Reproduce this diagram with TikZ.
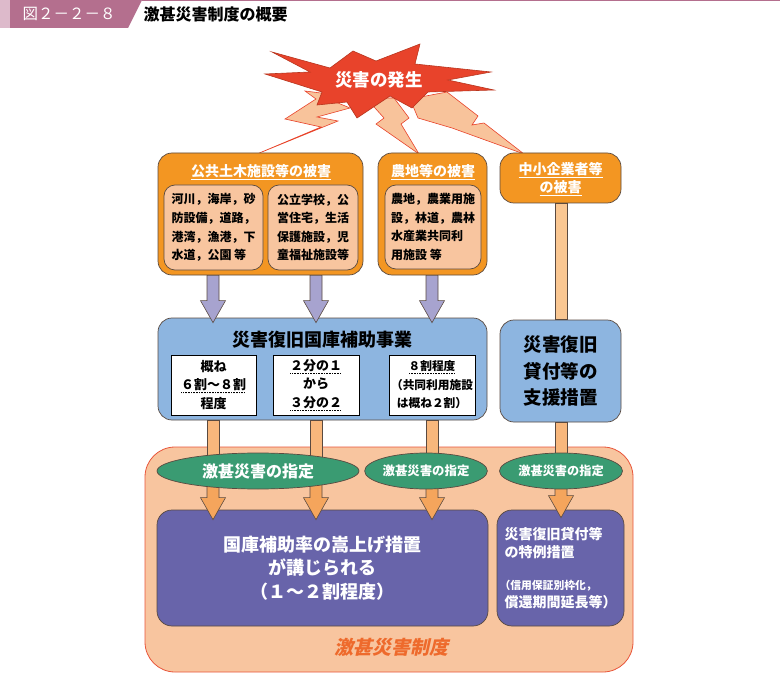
\documentclass[tikz,border=0pt]{standalone}
\usepackage{fontspec}
\setmainfont{Noto Sans CJK JP}
\newfontfamily\slantjp{Noto Sans CJK JP}[FakeSlant=0.22]
\usetikzlibrary{arrows.meta,positioning,calc,shapes.geometric}
\definecolor{Bar}{HTML}{B46F8E}
\definecolor{BarLight}{HTML}{DDBACB}
\definecolor{Burst}{HTML}{E8432B}
\definecolor{BurstEdge}{HTML}{B8361F}
\definecolor{Bolt}{HTML}{F8C39B}
\definecolor{Dmg}{HTML}{F39622}
\definecolor{Peach}{HTML}{F8C59F}
\definecolor{Aid}{HTML}{8DB5E0}
\definecolor{Lilac}{HTML}{A7A3CF}
\definecolor{ShaftPale}{HTML}{FAC792}
\definecolor{ShaftLt}{HTML}{F8B77C}
\definecolor{ShaftDk}{HTML}{F5A55C}
\definecolor{Desig}{HTML}{3A9B72}
\definecolor{Measure}{HTML}{6864AA}
\definecolor{Edge}{HTML}{5A4A40}
\definecolor{ZoneEdge}{HTML}{E8553A}
\definecolor{Label}{HTML}{EE6A2C}

% dotted underline
\newcommand{\dotul}[1]{\setbox0\hbox{#1}\vtop{\offinterlineskip\copy0\kern1.3pt
  \hbox to\wd0{\leaders\hbox to 1.6pt{\hss\vrule width 0.8pt height 0.8pt\hss}\hfill}}}
% vertical block arrow: style, start, tip
\newcommand{\blockarrow}[3]{%
  \draw[#1] ($#2+(-6,0)$) -- ($#3+(-6,-22)$) -- ($#3+(-12.5,-22)$) -- #3
    -- ($#3+(12.5,-22)$) -- ($#3+(6,-22)$) -- ($#2+(6,0)$) -- cycle;}
% plain shaft: style, start, end
\newcommand{\shaft}[3]{\draw[#1] ($#2+(-6,0)$) rectangle ($#3+(6,0)$);}

\begin{document}
\begin{tikzpicture}[x=1pt,y=-1pt,
    bolt/.style={fill=Bolt,draw=Burst,line width=0.6pt,line join=miter},
    damage/.style={draw=Edge,line width=0.7pt,fill=Dmg,rounded corners=14pt},
    innerbox/.style={draw=Edge,line width=0.7pt,fill=Peach,rounded corners=11pt,
      align=left,inner sep=0pt,font=\bfseries\fontsize{12}{18.6}\selectfont},
    dmgtitle/.style={text=white,align=center,inner sep=0pt,
      font=\bfseries\fontsize{14}{18.5}\selectfont},
    aidbox/.style={draw=Edge,line width=0.7pt,fill=Aid,rounded corners=14pt},
    ratebox/.style={draw=black,line width=0.7pt,fill=white,align=center,inner sep=0pt,
      minimum width=86,minimum height=60,font=\bfseries\fontsize{13}{18.5}\selectfont},
    desig/.style={ellipse,draw=Edge,line width=0.7pt,fill=Desig,text=white,
      inner sep=0pt,minimum height=36},
    measure/.style={draw=Edge,line width=0.7pt,fill=Measure,rounded corners=15pt,
      text=white,minimum height=116},
    lilacarrow/.style={draw=Edge,line width=0.6pt,fill=Lilac},
    paleshaft/.style={draw=Edge,line width=0.6pt,fill=ShaftPale},
    lightshaft/.style={draw=Edge,line width=0.6pt,fill=ShaftLt},
    orangearrow/.style={draw=Edge,line width=0.6pt,fill=ShaftDk}]
        \useasboundingbox (0,0) rectangle (780,674);

        % header
        \fill[BarLight] (0,0) rectangle (10,28);
        \fill[Bar] (10,0) -- (142,0) -- (128,28) -- (10,28) -- cycle;
        \draw[Bar,line width=1.5pt] (142,0.75) -- (780,0.75);
        \node[anchor=west,text=white,font=\fontsize{15.5}{15.5}\selectfont] (fignum) at (19,14) {図２－２－８};
        \node[anchor=west,font=\bfseries\fontsize{16}{16}\selectfont] (figtitle) at (140,14) {激甚災害制度の概要};

        % lightning
        \draw[bolt] (305,91) -- (316,99) -- (285,119) -- (321,127) -- (257,154)
          -- (338,121) -- (317,117) -- (350,108) -- (338,103) -- (352,97) -- cycle;
        \draw[bolt] (366,98) -- (384,118) -- (376,124) -- (419,154)
          -- (401,124) -- (409,118) -- (394,98) -- cycle;
        \draw[bolt] (410,99) -- (418,118) -- (452,128) -- (524,154)
          -- (484,123) -- (472,125) -- (478,116) -- (447,92) -- cycle;

        % burst
        \draw[fill=Burst,draw=BurstEdge,line width=0.6pt,line join=miter]
          (272,52) -- (330,68) -- (353,51) -- (376,61) -- (420,44) -- (415,64)
          -- (491,72) -- (448,80) -- (494,90) -- (428,92) -- (412,108) -- (390,96)
          -- (357,118) -- (347,102) -- (317,105) -- (322,92) -- (265,74) -- (310,72) -- cycle;
        \node[text=white,font=\bfseries\fontsize{17.5}{17.5}\selectfont] (burst) at (379,80) {災害の発生};

        % damage
        \node[damage,minimum width=205,minimum height=122] (pub) at (260.5,214) {};
        \node[dmgtitle] (pubtitle) at (261,172) {\underline{公共土木施設等の被害}};
        \node[innerbox,minimum width=99,minimum height=85] (pubA) at (213.5,227.5)
          {河川，海岸，砂\\防設備，道路，\\港湾，漁港，下\\水道，公園 等};
        \node[innerbox,minimum width=90,minimum height=85] (pubB) at (313,227.5)
          {公立学校，公\\営住宅，生活\\保護施設，児\\童福祉施設等};
        \node[damage,minimum width=109,minimum height=122] (farm) at (432.5,214) {};
        \node[dmgtitle] (farmtitle) at (433,172) {\underline{農地等の被害}};
        \node[innerbox,minimum width=96,minimum height=84] (farmin) at (433,227)
          {農地，農業用施\\設，林道，農林\\水産業共同利\\用施設 等};
        \node[damage,minimum width=121,minimum height=50] (sme) at (560.5,178) {};
        \node[dmgtitle] (smetitle) at (560.5,179) {\underline{中小企業者等}\\\underline{の被害}};

        % columns
        \coordinate (c1) at (213,0);
        \coordinate (c2) at (316,0);
        \coordinate (c3) at (432,0);
        \coordinate (c4) at (561,0);

        % aid
        \node[aidbox,minimum width=329,minimum height=102] (aid) at (322.5,369) {};
        \node[font=\bfseries\fontsize{18}{18}\selectfont] (aidtitle) at (322.5,340) {災害復旧国庫補助事業};
        \node[ratebox,minimum width=85] (rateA) at (213.5,385) {概ね\\\dotul{６割～８割}\\程度};
        \node[ratebox] (rateB) at (316,385) {\dotul{２分の１}\\から\\\dotul{３分の２}};
        \node[ratebox,font=\bfseries\fontsize{11.7}{18.5}\selectfont] (rateC) at (432,385)
          {\dotul{８割程度}\\（共同利用施設\\は概ね２割）};
        \node[aidbox,minimum width=121,minimum height=102,align=center,
          font=\bfseries\fontsize{18.5}{26.5}\selectfont] (loan) at (560.5,371) {災害復旧\\貸付等の\\支援措置};
        \shaft{paleshaft}{(sme.south -| c4)}{(loan.north -| c4)}

        \coordinate (t1) at ($(aid.north -| c1)+(0,5)$);
        \coordinate (t2) at ($(aid.north -| c2)+(0,5)$);
        \coordinate (t3) at ($(aid.north -| c3)+(0,5)$);
        \blockarrow{lilacarrow}{(pub.south -| c1)}{(t1)}
        \blockarrow{lilacarrow}{(pub.south -| c2)}{(t2)}
        \blockarrow{lilacarrow}{(farm.south -| c3)}{(t3)}

        % severe disaster scheme
        \node[draw=ZoneEdge,line width=0.8pt,fill=Peach,rounded corners=30pt,
          minimum width=488,minimum height=225] (zone) at (389,559.5) {};
        \node[measure,minimum width=331,align=center,
          font=\bfseries\fontsize{18}{23.5}\selectfont] (meas) at (322.5,568)
          {国庫補助率の嵩上げ措置\\が講じられる\\（１～２割程度）};
        \node[measure,minimum width=127,align=left,
          font=\bfseries\fontsize{14}{18}\selectfont] (meas2) at (560.5,568)
          {災害復旧貸付等\\の特例措置\\[14pt]\fontsize{10.8}{16}\selectfont\hspace*{-5pt}（信用保証別枠化，\\償還期間延長等）};

        \coordinate (e1) at (258,471);
        \coordinate (e2) at (426,471);
        \coordinate (e3) at (561,471);
        \coordinate (o1) at ($(meas.north -| c1)+(0,10)$);
        \coordinate (o2) at ($(meas.north -| c2)+(0,10)$);
        \coordinate (o3) at ($(meas.north -| c3)+(0,10)$);
        \coordinate (o4) at ($(meas2.north -| c4)+(0,8)$);
        \shaft{lightshaft}{(aid.south -| c1)}{(e1 -| c1)}
        \shaft{lightshaft}{(aid.south -| c2)}{(e1 -| c2)}
        \shaft{lightshaft}{(aid.south -| c3)}{(e2 -| c3)}
        \shaft{lightshaft}{(loan.south -| c4)}{(e3 -| c4)}
        \blockarrow{orangearrow}{(e1 -| c1)}{(o1)}
        \blockarrow{orangearrow}{(e1 -| c2)}{(o2)}
        \blockarrow{orangearrow}{(e2 -| c3)}{(o3)}
        \blockarrow{orangearrow}{(e3 -| c4)}{(o4)}

        \node[desig,minimum width=202,font=\bfseries\fontsize{16}{16}\selectfont] (d1) at (e1) {激甚災害の指定};
        \node[desig,minimum width=122,font=\bfseries\fontsize{12.4}{12.4}\selectfont] (d2) at (e2) {激甚災害の指定};
        \node[desig,minimum width=123,font=\bfseries\fontsize{12.2}{12.2}\selectfont] (d3) at (e3) {激甚災害の指定};

        \node[text=Label,font=\slantjp\bfseries\fontsize{19}{19}\selectfont] (zonelabel) at (391,647) {激甚災害制度};
\end{tikzpicture}
\end{document}
